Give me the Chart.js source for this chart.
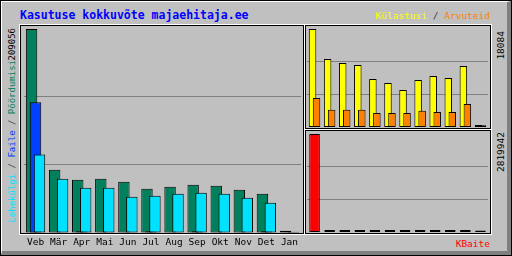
<!DOCTYPE html>
<html>
<head>
<meta charset="utf-8">
<script src="https://cdn.jsdelivr.net/npm/chart.js@4"></script>
<style>
  html, body { margin: 0; padding: 0; background: #c0c0c0; }
  #frame { position: relative; width: 512px; height: 256px; overflow: hidden; background: #c0c0c0; }
  .box { position: absolute; box-sizing: border-box; }
  #outer { left: 0; top: 0; width: 512px; height: 256px; border: 1px solid #000; }
  #bevel { left: 1px; top: 1px; width: 510px; height: 254px; border-top: 1px solid #fff; border-left: 1px solid #fff; border-right: 4px solid #808080; border-bottom: 4px solid #808080; }
  .panel { border: 1px solid #000; box-shadow: 0 0 0 1px #fff; }
  canvas { position: absolute; }
  .txt { position: absolute; font-family: 'DejaVu Sans Mono', monospace; font-size: 9.5px; line-height: 1; white-space: nowrap; }
  .up { writing-mode: vertical-rl; transform: rotate(180deg); font-size: 9px; }
  .title { font-size: 11.5px; font-weight: bold; color: #0000ff; }
  .sep { color: #404040; }
</style>
</head>
<body>
<div id="frame">
  <div class="box" id="outer"></div>
  <div class="box" id="bevel"></div>
  <div class="box panel" style="left:20px; top:25px; width:284px; height:209px;"></div>
  <div class="box panel" style="left:305px; top:25px; width:186px; height:104px;"></div>
  <div class="box panel" style="left:305px; top:130px; width:186px; height:104px;"></div>

  <div class="txt title" style="left:20px; top:10px;">Kasutuse kokkuvõte majaehitaja.ee</div>
  <div class="txt" style="right:22px; top:11px;"><span style="color:#ffff00">Külastusi</span><span class="sep"> / </span><span style="color:#ff8000">Arvuteid</span></div>
  <div class="txt up" style="left:8px; bottom:33px;"><span style="color:#00e0ff">Lehekülgi</span><span class="sep"> / </span><span style="color:#0040ff">Faile</span><span class="sep"> / </span><span style="color:#00805c">Pöördumisi</span></div>
  <div class="txt up" id="maxHits" style="left:8px; top:28px; color:#000;"></div>
  <div class="txt up" id="maxVisits" style="left:496px; top:31px; color:#000; font-size:9.5px;"></div>
  <div class="txt up" id="maxKb" style="left:496px; top:132px; color:#000; font-size:9.5px;"></div>
  <div class="txt" style="right:22px; top:239px; color:#ff0000;">KBaite</div>

  <canvas id="main" width="279" height="226" style="left:23px; top:26px;"></canvas>
  <canvas id="visitsChart" width="181" height="101" style="left:307px; top:26px;"></canvas>
  <canvas id="kbChart" width="181" height="101" style="left:307px; top:131px;"></canvas>
</div>
<script>
const months = ["Veb", "Mär", "Apr", "Mai", "Jun", "Jul", "Aug", "Sep", "Okt", "Nov", "Det", "Jan"];

const hits   = [209056, 64600, 54300, 55300, 52200, 45000, 47100, 49100, 48100, 44000, 39900, 1800];
const files  = [133900, 400, 1500, 400, 400, 1500, 400, 1500, 400, 400, 1500, 300];
const pages  = [80300, 55300, 46000, 46000, 36800, 37800, 39900, 40900, 39900, 35700, 30600, 1000];

const visits = [18084, 12550, 11810, 11440, 8860, 8120, 6830, 8670, 9410, 9040, 11260, 370];
const sites  = [5350, 3190, 3190, 3190, 2580, 2580, 2580, 3010, 2770, 2770, 4240, 300];

const kbytes = [2819942, 57000, 57000, 57000, 57000, 57000, 57000, 57000, 57000, 57000, 57000, 40000];

document.getElementById("maxHits").textContent = Math.max(...hits);
document.getElementById("maxVisits").textContent = Math.max(...visits);
document.getElementById("maxKb").textContent = Math.max(...kbytes);

// later datasets go on top, like the original gif
const drawInOrder = {
  id: "drawInOrder",
  beforeDatasetsDraw(chart) {
    chart.getSortedVisibleDatasetMetas().forEach(meta => meta.controller.draw());
    return false;
  }
};

// only two grey lines, at 1/3 and 2/3
function thirds(scale) {
  scale.ticks = [1, 2].map(k => ({ value: scale.max * k / 3 }));
}

function makeChart(id, sets, catPct, barPct, showMonths) {
  const all = sets.flatMap(s => s.data);
  return new Chart(document.getElementById(id), {
    type: "bar",
    data: {
      labels: months,
      datasets: sets.map(s => ({
        data: s.data,
        backgroundColor: s.color,
        borderColor: "#000",
        borderWidth: 1,
        borderSkipped: false,
        categoryPercentage: catPct,
        barPercentage: barPct,
      })),
    },
    options: {
      responsive: false,
      animation: false,
      events: [],
      layout: { padding: { top: 3 } },
      plugins: { legend: { display: false }, tooltip: { enabled: false } },
      scales: {
        x: {
          display: showMonths,
          grid: { display: false, drawTicks: false },
          border: { display: false },
          ticks: {
            color: "#000",
            padding: 4,
            maxRotation: 0,
            autoSkip: false,
            font: { family: "DejaVu Sans Mono", size: 9.5 },
          },
        },
        y: {
          min: 0,
          max: Math.max(...all),
          grid: { color: "#808080", drawTicks: false },
          border: { display: false },
          ticks: { display: false },
          afterBuildTicks: thirds,
        },
      },
    },
    plugins: [drawInOrder],
  });
}

makeChart("main", [
  { data: hits, color: "#00805c" },
  { data: files, color: "#0040ff" },
  { data: pages, color: "#00e0ff" },
], 0.516, 2.875, true);

makeChart("visitsChart", [
  { data: visits, color: "#ffff00" },
  { data: sites, color: "#ff8000" },
], 0.53, 1.875, false);

makeChart("kbChart", [
  { data: kbytes, color: "#ff0000" },
], 1, 0.7, false);
</script>
</body>
</html>
